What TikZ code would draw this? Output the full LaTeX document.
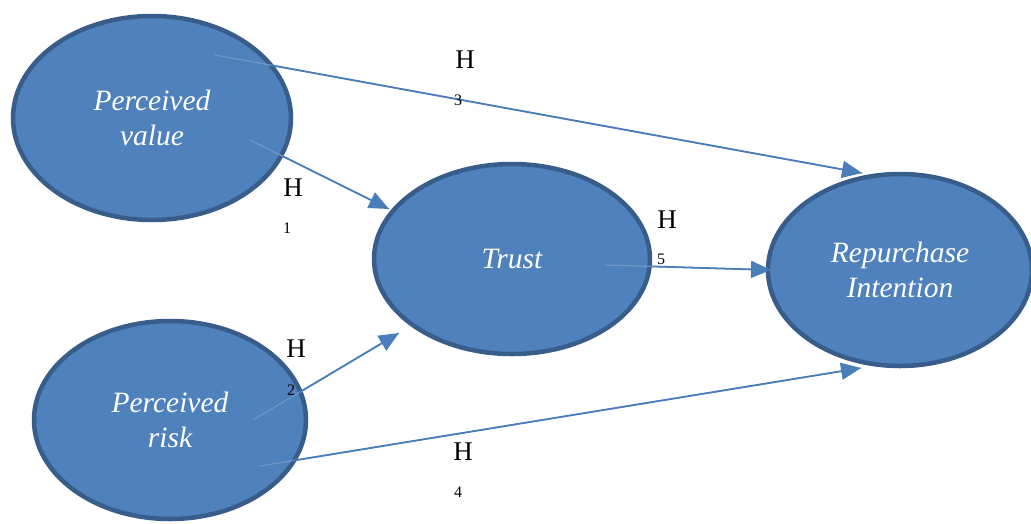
\documentclass[tikz,border=0pt]{standalone}
\usepackage{fontspec}
\setmainfont{Liberation Serif}
\usetikzlibrary{arrows.meta,shapes.geometric}

\definecolor{ellfill}{HTML}{4F81BD}
\definecolor{elldraw}{HTML}{385D8A}
\definecolor{arrcol}{HTML}{4A7EBB}

\begin{document}
\begin{tikzpicture}[x=1pt,y=-1pt,>={Triangle[length=20pt,width=17pt]},
    construct/.style={ellipse,fill=ellfill,draw=elldraw,line width=4.5pt,
      inner sep=0pt,text=white,align=center,
      font=\itshape\fontsize{29.5}{35}\selectfont},
    path/.style={->,draw=arrcol,line width=1.8pt},
    faint/.style={draw=ellfill!82!white,line width=1.2pt},
    hyp/.style={font=\fontsize{27}{27}\selectfont,inner sep=0pt},
    hnum/.style={font=\fontsize{16}{16}\selectfont,inner sep=0pt}]
  \useasboundingbox (0,0) rectangle (1031,523);

  \node[construct,minimum width=278pt,minimum height=204pt] (pv) at (152,118)
    {Perceived\\value};
  \node[construct,minimum width=276pt,minimum height=190pt] (trust) at (512,259)
    {Trust};
  \node[construct,minimum width=264pt,minimum height=192pt] (ri) at (900,270)
    {Repurchase\\Intention};
  \node[construct,minimum width=272pt,minimum height=198pt] (pr) at (170,420)
    {Perceived\\risk};

  % start and end points of the paths
  \coordinate (h3s) at (215,55);
  \coordinate (h3e) at (862,173);
  \coordinate (h1s) at (250,140);
  \coordinate (h1e) at (389,209);
  \coordinate (h2s) at (253,420);
  \coordinate (h2e) at (399,333);
  \coordinate (h4s) at (260,466);
  \coordinate (h4e) at (861,368);
  \coordinate (h5s) at (605,265);
  \coordinate (h5e) at (771,270);

  % faint part inside the ellipse, then the arrow
  \draw[faint] (h3s) -- (h3e);
  \draw[path,shorten <=57pt] (h3s) -- (h3e);
  \draw[faint] (h1s) -- (h1e);
  \draw[path,shorten <=37pt] (h1s) -- (h1e);
  \draw[faint] (h2s) -- (h2e);
  \draw[path,shorten <=54pt] (h2s) -- (h2e);
  \draw[faint] (h4s) -- (h4e);
  \draw[path,shorten <=33pt] (h4s) -- (h4e);
  \draw[faint] (h5s) -- (h5e);
  \draw[path,shorten <=46pt] (h5s) -- (h5e);

  % hypothesis labels
  \node[hyp] (h3) at (465,60) {H};
  \node[hnum] (n3) at (458,100) {3};
  \node[hyp] (h1) at (293,188) {H};
  \node[hnum] (n1) at (287,228) {1};
  \node[hyp] (h2) at (296,349) {H};
  \node[hnum] (n2) at (291,390) {2};
  \node[hyp] (h5) at (667,220) {H};
  \node[hnum] (n5) at (661,259) {5};
  \node[hyp] (h4) at (463,452) {H};
  \node[hnum] (n4) at (458,492) {4};
\end{tikzpicture}
\end{document}
